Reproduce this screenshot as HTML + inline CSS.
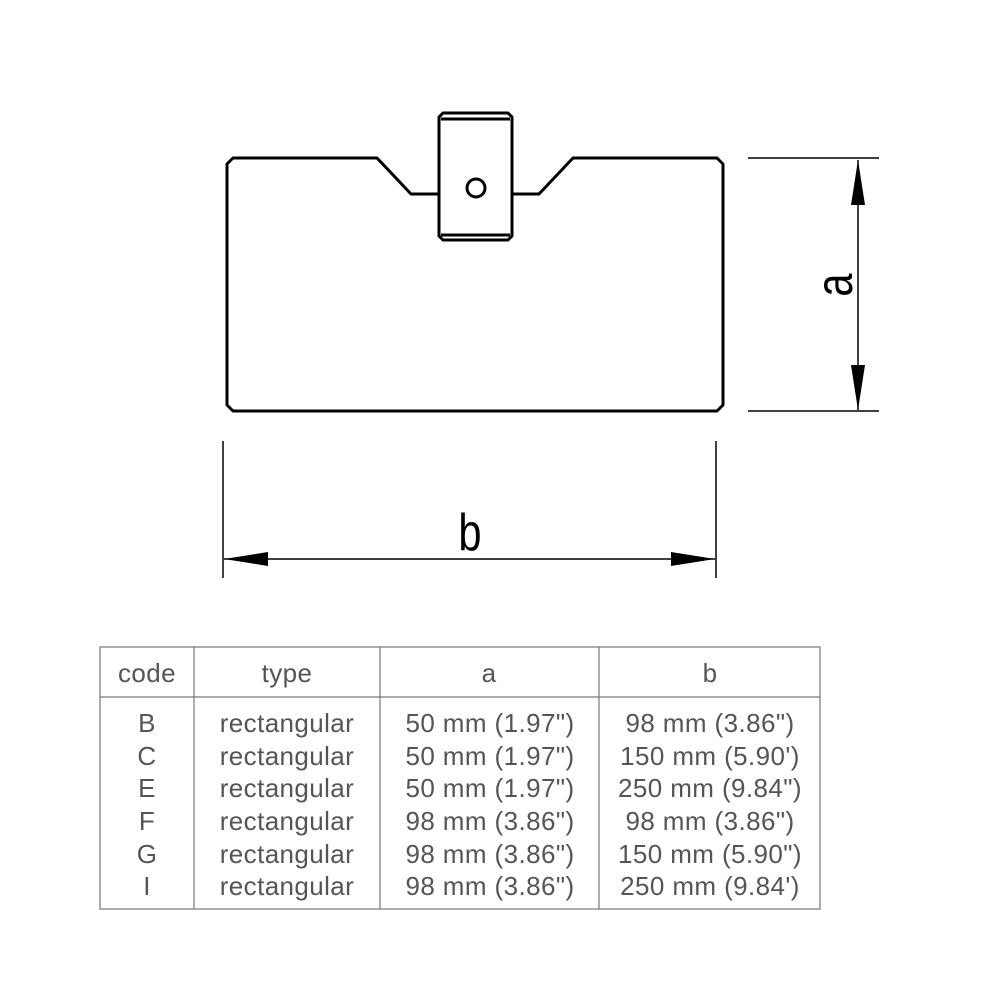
<!DOCTYPE html>
<html><head><meta charset="utf-8"><style>
html,body{margin:0;padding:0;background:#fff;}
</style></head><body>
<svg width="1000" height="1000" viewBox="0 0 1000 1000" xmlns="http://www.w3.org/2000/svg">
<g fill="none" stroke="#000" stroke-width="3" stroke-linejoin="round">
<path d="M439,194 L411,194 L377,158 L233,158 L227,164 L227,405 L233,411 L717,411 L723,405 L723,164 L717,158 L573,158 L539,194 L512,194"/>
<path d="M443,113 L508,113 L512,117 L512,236 L508,240 L443,240 L439,236 L439,117 Z"/>
<line x1="441" y1="119" x2="510" y2="119"/>
<line x1="441" y1="235" x2="510" y2="235"/>
<circle cx="476" cy="188" r="9"/>
</g>
<g stroke="#000" stroke-width="1.5">
<line x1="748" y1="158" x2="879" y2="158"/>
<line x1="748" y1="411" x2="879" y2="411"/>
<line x1="858" y1="160" x2="858" y2="410"/>
<line x1="223" y1="441" x2="223" y2="578"/>
<line x1="716" y1="441" x2="716" y2="578"/>
<line x1="224" y1="559" x2="715" y2="559"/>
</g>
<g fill="#000">
<polygon points="858,160 851,205 865,205"/>
<polygon points="858,410 851,365 865,365"/>
<polygon points="224,559 268,552 268,566"/>
<polygon points="715,559 671,552 671,566"/>
</g>
<text x="0" y="0" font-family="Liberation Sans, sans-serif" font-size="52" fill="#000" text-anchor="middle" transform="translate(852,285) rotate(-90) scale(0.8,1)">a</text>
<text x="0" y="0" font-family="Liberation Sans, sans-serif" font-size="52" fill="#000" text-anchor="middle" transform="translate(470,550) scale(0.8,1)">b</text>
<g stroke="#777" stroke-width="1.2" fill="none">
<rect x="100" y="647" width="720" height="262"/>
<line x1="100" y1="697" x2="820" y2="697"/>
<line x1="194" y1="647" x2="194" y2="909"/>
<line x1="380" y1="647" x2="380" y2="909"/>
<line x1="599" y1="647" x2="599" y2="909"/>
</g>
<g font-family="Liberation Sans, sans-serif" font-size="26" letter-spacing="0.4" fill="#555" text-anchor="middle">
<text x="147" y="682">code</text><text x="287" y="682">type</text><text x="489" y="682">a</text><text x="710" y="682">b</text>
<text x="147" y="732">B</text><text x="287" y="732">rectangular</text><text x="490" y="732">50 mm (1.97")</text><text x="710" y="732">98 mm (3.86")</text>
<text x="147" y="765">C</text><text x="287" y="765">rectangular</text><text x="490" y="765">50 mm (1.97")</text><text x="710" y="765">150 mm (5.90')</text>
<text x="147" y="797">E</text><text x="287" y="797">rectangular</text><text x="490" y="797">50 mm (1.97")</text><text x="710" y="797">250 mm (9.84")</text>
<text x="147" y="830">F</text><text x="287" y="830">rectangular</text><text x="490" y="830">98 mm (3.86")</text><text x="710" y="830">98 mm (3.86")</text>
<text x="147" y="863">G</text><text x="287" y="863">rectangular</text><text x="490" y="863">98 mm (3.86")</text><text x="710" y="863">150 mm (5.90")</text>
<text x="147" y="895">I</text><text x="287" y="895">rectangular</text><text x="490" y="895">98 mm (3.86")</text><text x="710" y="895">250 mm (9.84')</text>
</g>
</svg>
</body></html>
